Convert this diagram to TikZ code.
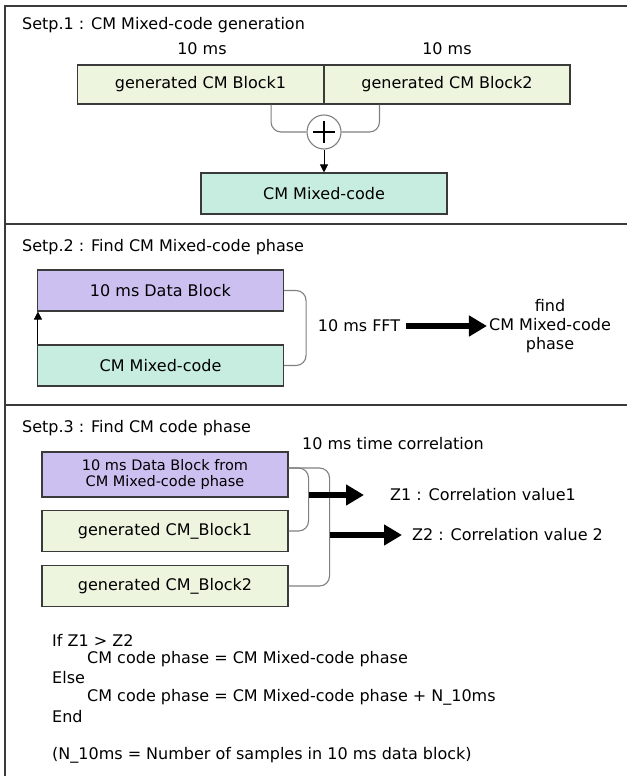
\documentclass[tikz,border=0pt]{standalone}
\usepackage{fontspec}
\setmainfont{DejaVu Sans}
\usetikzlibrary{arrows.meta,calc}
\definecolor{lgreen}{HTML}{EEF5DF}
\definecolor{mint}{HTML}{C6EDE0}
\definecolor{lav}{HTML}{CBC0F0}
\definecolor{edge}{HTML}{3A3A3A}
\definecolor{brgray}{HTML}{808080}
\begin{document}
\begin{tikzpicture}[x=1pt,y=-1pt,
  every node/.style={inner sep=0pt, text=black},
  font=\fontsize{16}{19}\selectfont,
  frame/.style={draw=edge, line width=1.4pt},
  box/.style={draw=edge, line width=1.1pt, minimum width=246pt, minimum height=41pt, inner sep=0pt},
  gbox/.style={box, fill=lgreen},
  mbox/.style={box, fill=mint},
  lbox/.style={box, fill=lav},
  brk/.style={draw=brgray, line width=1.1pt, rounded corners=10pt},
  small/.style={draw=black, line width=1pt, -{Triangle[length=8pt,width=8pt]}},
  fat/.style={draw=black, line width=6pt, -{Triangle[length=18pt,width=20pt]}},
  txt/.style={anchor=west}
]
\useasboundingbox (0,0) rectangle (627,776);
\fill[white] (0,0) rectangle (627,776);
% frame
\draw[frame] (5,776) -- (5,6) -- (627,6);
\draw[frame] (5,224) -- (627,224);
\draw[frame] (5,405) -- (627,405);

% ---- Step 1
\node[txt] (t1) at (22,25) {Setp.1 : CM Mixed-code generation};
\node (ms1) at (202,49) {10 ms};
\node (ms2) at (447,49) {10 ms};
\node[gbox, minimum height=39pt] (b1) at (200.5,84.5) {generated CM Block1};
\node[gbox, minimum height=39pt] (b2) at (447,84.5) {generated CM Block2};
\node[circle, draw=brgray, line width=1.1pt, minimum size=34pt, fill=white] (plus) at (324,132) {};
\draw[line width=1.3pt] ([xshift=-11pt]plus.center) -- ([xshift=11pt]plus.center);
\draw[line width=1.3pt] ([yshift=-11pt]plus.center) -- ([yshift=11pt]plus.center);
\draw[brk] ($(b1.south east)+(-53,0)$) |- (plus.west);
\draw[brk] ($(b2.south west)+(56,0)$) |- (plus.east);
\node[mbox] (mix1) at (324,193.5) {CM Mixed-code};
\draw[small] (plus.south) -- (mix1.north);

% ---- Step 2
\node[txt] (t2) at (22,247) {Setp.2 : Find CM Mixed-code phase};
\node[lbox] (data2) at (160.5,290.5) {10 ms Data Block};
\node[mbox] (mix2) at (160.5,365.5) {CM Mixed-code};
\draw[small] ([xshift=1pt]mix2.north west) -- ([xshift=1pt]data2.south west);
\draw[brk] (data2.east) -- ++(22,0) |- (mix2.east);
\node (fft) at (359,326) {10 ms FFT};
\node[align=center] (find) at (550,326) {find\\CM Mixed-code\\phase};
\draw[fat] ([xshift=6pt]fft.east) -- ([xshift=-2pt]find.west);

% ---- Step 3
\node[txt] (t3) at (22,428) {Setp.3 : Find CM code phase};
\node[txt] (corr) at (302,444) {10 ms time correlation};
\node[lbox, minimum height=45pt, align=center, font=\fontsize{14.5}{16.5}\selectfont] (data3) at (165,474.5) {10 ms Data Block from\\CM Mixed-code phase};
\node[gbox] (cb1) at (165,531) {generated CM\_Block1};
\node[gbox] (cb2) at (165,586) {generated CM\_Block2};
\draw[brk] ([yshift=6.5pt]data3.east) -- ++(20,0) |- (cb1.east);
\draw[brk] ([yshift=6.5pt]data3.east) -- ++(41,0) |- (cb2.east);
\node[txt] (z1) at (390,495) {Z1 : Correlation value1};
\node[txt] (z2) at (412,535) {Z2 : Correlation value 2};
\coordinate (z1s) at (309,495);
\coordinate (z2s) at (330,535);
\draw[fat, shorten >=26pt] (z1s) -- (z1.west);
\draw[fat, shorten >=10pt] (z2s) -- (z2.west);

% pseudocode
\node[txt] (p1) at (52,640) {If Z1 > Z2};
\node[txt] (p2) at (87,659) {CM code phase = CM Mixed-code phase};
\node[txt] (p3) at (52,678) {Else};
\node[txt] (p4) at (87,697) {CM code phase = CM Mixed-code phase + N\_10ms};
\node[txt] (p5) at (52,717) {End};
\node[txt] (p6) at (52,755) {(N\_10ms = Number of samples in 10 ms data block)};
\end{tikzpicture}
\end{document}
